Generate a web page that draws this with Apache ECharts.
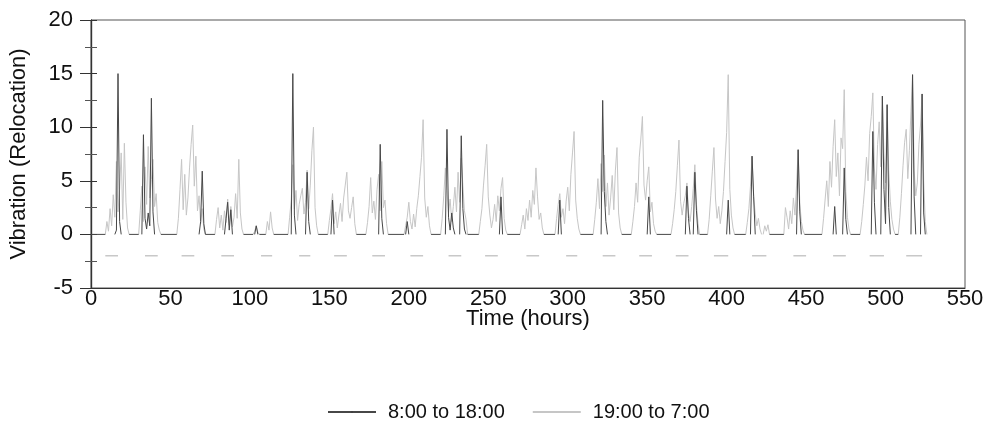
<!DOCTYPE html>
<html>
<head>
<meta charset="utf-8">
<script src="https://cdn.jsdelivr.net/npm/echarts@6/dist/echarts.min.js"></script>
<style>
  html, body { margin: 0; padding: 0; background: #fff; }
  #chart { width: 990px; height: 432px; }
</style>
</head>
<body>
<div id="chart"></div>
<script>
// Hourly vibration readings (relocation units), time in hours from start of logging.

// Flat quiet stretches of the 8:00-18:00 trace: [startHour, endHour] at zero.
const dayQuiet = [
  [0, 9], [24, 30], [44, 54], [72, 78], [96, 102], [106, 110], [115, 124],
  [143, 149], [167, 173], [187, 197], [214, 220], [237, 244], [262, 270],
  [285, 292], [308, 316], [334, 340], [356, 365], [383, 388], [405, 412],
  [427, 436], [449, 460], [478, 484], [506, 508]
];

// Peaks of the 8:00-18:00 trace: each run is a list of [hour, value].
const dayPeaks = [
  [[15, 0], [16, 0.4], [17, 15], [18, 1.2], [19, 0]],
  [[32, 0], [33, 9.3], [34, 1.5], [35, 0.5], [36, 2], [37, 0.8], [38, 12.7], [39, 2.1], [40, 0]],
  [[68, 0], [69, 1.2], [70, 5.9], [71, 1.0], [72, 0]],
  [[84, 0], [85, 1.5], [86, 3.0], [87, 0.4], [88, 2.3], [89, 0]],
  [[103, 0], [104, 0.8], [105, 0]],
  [[126, 0], [127, 15], [128, 1.8], [129, 0]],
  [[135, 0], [136, 5.8], [137, 1.2], [138, 0]],
  [[151, 0], [152, 3.2], [153, 0]],
  [[181, 0], [182, 8.4], [183, 1.5], [184, 0]],
  [[198, 0], [199, 1.2], [200, 0]],
  [[223, 0], [224, 9.8], [225, 1.6], [226, 0.4], [227, 2.0], [228, 0.6], [229, 0]],
  [[232, 0], [233, 9.2], [234, 2.4], [235, 0.5], [236, 0]],
  [[257, 0], [258, 3.5], [259, 0]],
  [[294, 0], [295, 3.2], [296, 0]],
  [[321, 0], [322, 12.5], [323, 4.0], [324, 1.2], [325, 0]],
  [[350, 0], [351, 3.5], [352, 0]],
  [[374, 0], [375, 4.5], [376, 1.5], [377, 0]],
  [[379, 0], [380, 5.8], [381, 2.2], [382, 0]],
  [[400, 0], [401, 3.2], [402, 0]],
  [[415, 0], [416, 7.3], [417, 3.5], [418, 0]],
  [[444, 0], [445, 7.9], [446, 2.1], [447, 0]],
  [[467, 0], [468, 2.6], [469, 0]],
  [[473, 0], [474, 6.2], [475, 1.4], [476, 0]],
  [[491, 0], [492, 9.6], [493, 3.0], [494, 0]],
  [[497, 0], [498, 12.9], [499, 4.2], [500, 1.0], [501, 12.1], [502, 2.5], [503, 0]],
  [[516, 0], [517, 14.9], [518, 3.5], [519, 0]],
  [[522, 0], [523, 13.1], [524, 2.0], [525, 0]]
];

// Bursts of the 19:00-7:00 trace: each run is a list of [hour, value].
const nightBursts = [
  [[9, 0], [10, 1.2], [11, 0.3], [12, 2.4], [13, 0.8], [14, 3.7], [15, 1.6], [16, 6.8], [17, 2.1], [18, 4.2], [19, 7.6], [20, 1.4], [21, 8.5], [22, 3.0], [23, 0.6], [24, 0]],
  [[30, 0], [31, 2.2], [32, 4.5], [33, 1.2], [34, 6.3], [35, 2.8], [36, 8.2], [37, 3.4], [38, 5.1], [39, 7.0], [40, 2.6], [41, 3.8], [42, 1.1], [43, 0.4], [44, 0]],
  [[54, 0], [55, 1.5], [56, 4.2], [57, 7], [58, 2.3], [59, 5.6], [60, 1.8], [61, 3.4], [62, 6.2], [63, 8.4], [64, 10.2], [65, 4.5], [66, 7.3], [67, 2.2], [68, 3.6], [69, 1.0], [70, 2.4], [71, 0.5], [72, 0]],
  [[78, 0], [79, 1.4], [80, 2.5], [81, 0.6], [82, 1.8], [83, 0.4], [84, 2.2], [85, 1.1], [86, 3.3], [87, 0.9], [88, 2.6], [89, 0.7], [90, 1.6], [91, 3.8], [92, 1.5], [93, 7], [94, 2.0], [95, 0.5], [96, 0]],
  [[102, 0], [103, 0.3], [104, 0.8], [105, 0.2], [106, 0]],
  [[110, 0], [111, 1.2], [112, 0.4], [113, 2.1], [114, 0.6], [115, 0]],
  [[124, 0], [125, 1.6], [126, 3.2], [127, 6.5], [128, 2.4], [129, 4.1], [130, 1.3], [131, 2.8], [132, 3.6], [133, 4.3], [134, 1.9], [135, 3.0], [136, 6], [137, 2.4], [138, 4.6], [139, 7.8], [140, 10], [141, 2.5], [142, 0.8], [143, 0]],
  [[149, 0], [150, 1.3], [151, 2.4], [152, 3.8], [153, 1.0], [154, 2.1], [155, 0.6], [156, 1.8], [157, 2.9], [158, 1.2], [159, 3.4], [160, 4.6], [161, 5.8], [162, 2.2], [163, 1.5], [164, 2.5], [165, 3.5], [166, 1.0], [167, 0]],
  [[173, 0], [174, 1.1], [175, 2.6], [176, 5.3], [177, 2.0], [178, 3.1], [179, 1.4], [180, 4.2], [181, 5.6], [182, 2.2], [183, 6.8], [184, 2.5], [185, 3.2], [186, 1.0], [187, 0]],
  [[197, 0], [198, 0.8], [199, 1.6], [200, 3], [201, 1.2], [202, 0.5], [203, 1.9], [204, 0.7], [205, 2.4], [206, 3.6], [207, 5.4], [208, 7.2], [209, 10.7], [210, 3.4], [211, 1.6], [212, 2.6], [213, 0.8], [214, 0]],
  [[220, 0], [221, 1.5], [222, 3.6], [223, 6.2], [224, 4.1], [225, 2.0], [226, 3.3], [227, 1.2], [228, 2.6], [229, 4.4], [230, 2.1], [231, 5.8], [232, 3.0], [233, 7.1], [234, 4.6], [235, 2.2], [236, 1.4], [237, 0]],
  [[244, 0], [245, 1.2], [246, 2.4], [247, 4.6], [248, 6.4], [249, 8.4], [250, 3.5], [251, 1.8], [252, 0.6], [253, 1.4], [254, 2.8], [255, 1.2], [256, 3.6], [257, 2.2], [258, 4.3], [259, 5.3], [260, 1.5], [261, 0.4], [262, 0]],
  [[270, 0], [271, 0.9], [272, 1.8], [273, 0.5], [274, 2.4], [275, 1.3], [276, 3.2], [277, 1.6], [278, 4.1], [279, 2.8], [280, 6.2], [281, 3.5], [282, 1.4], [283, 2.0], [284, 0.6], [285, 0]],
  [[292, 0], [293, 1.5], [294, 2.8], [295, 3.8], [296, 1.6], [297, 2.4], [298, 1.0], [299, 3.1], [300, 4.4], [301, 2.2], [302, 5.6], [303, 7.6], [304, 9.6], [305, 3.2], [306, 1.5], [307, 0.5], [308, 0]],
  [[316, 0], [317, 1.4], [318, 3.0], [319, 5.2], [320, 2.4], [321, 6.6], [322, 4.0], [323, 7.4], [324, 2.6], [325, 4.8], [326, 1.8], [327, 3.4], [328, 5.5], [329, 2.3], [330, 6.0], [331, 8.1], [332, 2.0], [333, 0.6], [334, 0]],
  [[340, 0], [341, 1.2], [342, 2.6], [343, 4.8], [344, 3.0], [345, 7.2], [346, 8.9], [347, 11.0], [348, 4.6], [349, 3.2], [350, 5.0], [351, 6.3], [352, 2.1], [353, 3.0], [354, 1.0], [355, 0.3], [356, 0]],
  [[365, 0], [366, 1.0], [367, 2.3], [368, 4.0], [369, 6.4], [370, 8.8], [371, 3.1], [372, 1.8], [373, 2.9], [374, 3.6], [375, 4.8], [376, 2.0], [377, 1.2], [378, 2.6], [379, 4.3], [380, 6.5], [381, 2.8], [382, 1.0], [383, 0]],
  [[388, 0], [389, 1.4], [390, 3.6], [391, 5.9], [392, 8.1], [393, 3.3], [394, 1.5], [395, 2.6], [396, 1.0], [397, 2.2], [398, 4.0], [399, 6.8], [400, 9.5], [401, 14.9], [402, 4.2], [403, 1.8], [404, 0.6], [405, 0]],
  [[412, 0], [413, 1.1], [414, 2.4], [415, 4.5], [416, 7.3], [417, 3.6], [418, 1.9], [419, 0.8], [420, 1.5], [421, 0.5], [422, 0]],
  [[423, 0], [424, 0.8], [425, 0.3], [426, 0.9], [427, 0]],
  [[436, 0], [437, 2.5], [438, 1.6], [439, 0.5], [440, 2.2], [441, 1.0], [442, 3.4], [443, 1.8], [444, 4.6], [445, 7.9], [446, 3.0], [447, 1.2], [448, 0.4], [449, 0]],
  [[460, 0], [461, 1.5], [462, 3.3], [463, 5.0], [464, 2.6], [465, 6.8], [466, 4.4], [467, 8.2], [468, 10.7], [469, 5.4], [470, 7.6], [471, 3.6], [472, 9.0], [473, 8.0], [474, 13.5], [475, 4.0], [476, 1.6], [477, 0.5], [478, 0]],
  [[484, 0], [485, 1.2], [486, 2.8], [487, 4.6], [488, 7.2], [489, 5.0], [490, 9.4], [491, 11.0], [492, 13.2], [493, 6.1], [494, 4.2], [495, 8.4], [496, 10.5], [497, 6.3], [498, 12.9], [499, 7.5], [500, 4.8], [501, 12.1], [502, 6.0], [503, 3.1], [504, 1.4], [505, 0.5], [506, 0]],
  [[508, 0], [509, 1.6], [510, 3.8], [511, 6.4], [512, 8.6], [513, 9.8], [514, 5.2], [515, 7.8], [516, 11.5], [517, 14.9], [518, 6.0], [519, 3.6], [520, 4.8], [521, 8.4], [522, 10.2], [523, 13.1], [524, 5.0], [525, 1.2], [526, 0]]
];

// Working-day windows marked below the traces: [startHour, endHour].
const dayWindows = [
  [9, 17], [34, 42], [57, 65], [82, 90], [107, 114], [131, 138], [153, 161],
  [177, 185], [201, 209], [225, 233], [248, 256], [274, 282], [299, 306],
  [322, 330], [345, 353], [368, 376], [392, 401], [416, 425], [442, 450],
  [467, 475], [490, 499], [513, 523]
];
const dayWindowLevel = -2;

const seriesNames = ['8:00 to 18:00', '19:00 to 7:00'];
const xTicks = { min: 0, max: 550, step: 50 };
const yTicks = { min: -5, max: 20, step: 5 };

// Join separate runs into one line, with a break between runs.
function joinRuns(runs) {
  const out = [];
  runs.forEach((run, i) => {
    if (i > 0) out.push(null);
    run.forEach(p => out.push(p));
  });
  return out;
}

const dayData = joinRuns(
  dayQuiet.map(([a, b]) => [[a, 0], [b, 0]]).concat(dayPeaks)
);
const nightData = joinRuns(nightBursts);
const windowData = joinRuns(dayWindows.map(([a, b]) => [[a, dayWindowLevel], [b, dayWindowLevel]]));

const FONT = 'Liberation Sans, Arial, sans-serif';
const GRID = { left: 91, right: 25, top: 20, bottom: 144 };
const PLOT_WIDTH = 990 - GRID.left - GRID.right;

const chart = echarts.init(document.getElementById('chart'), null, { renderer: 'canvas' });

const yBase = {
  type: 'value',
  min: yTicks.min,
  max: yTicks.max,
  interval: yTicks.step,
  splitLine: { show: false },
  minorSplitLine: { show: false }
};

chart.setOption({
  animation: false,
  backgroundColor: '#ffffff',
  grid: Object.assign({
    show: true, borderColor: '#555', borderWidth: 1, backgroundColor: 'transparent'
  }, GRID),
  legend: {
    data: seriesNames,
    left: 322,
    top: 397,
    itemWidth: 48,
    itemHeight: 2,
    itemGap: 27,
    textStyle: { fontFamily: FONT, fontSize: 20, color: '#111', padding: [0, 0, 0, 7] }
  },
  xAxis: {
    type: 'value',
    min: xTicks.min,
    max: xTicks.max,
    interval: xTicks.step,
    name: 'Time (hours)',
    nameLocation: 'middle',
    nameGap: 20,
    nameMoveOverlap: false,
    nameTextStyle: { fontFamily: FONT, fontSize: 22, color: '#111' },
    axisLine: { show: true, onZero: false, lineStyle: { color: '#333', width: 1 } },
    axisTick: { show: false },
    axisLabel: { fontFamily: FONT, fontSize: 22, color: '#111', margin: 0 },
    splitLine: { show: false }
  },
  yAxis: [
    Object.assign({}, yBase, {
      position: 'left',
      name: 'Vibration (Relocation)',
      nameLocation: 'middle',
      nameGap: 61,
      nameMoveOverlap: false,
      nameTextStyle: { fontFamily: FONT, fontSize: 22, color: '#111' },
      axisLine: { show: true, onZero: false, lineStyle: { color: '#333', width: 1.2 } },
      axisTick: { show: true, length: 11, lineStyle: { color: '#333' } },
      minorTick: { show: true, splitNumber: 2, length: 6, lineStyle: { color: '#555' } },
      axisLabel: { fontFamily: FONT, fontSize: 22, color: '#111', margin: 18 }
    }),
    // Same scale again, moved onto the left edge so its ticks point into the plot.
    Object.assign({}, yBase, {
      position: 'right',
      offset: -PLOT_WIDTH,
      axisLine: { show: true, onZero: false, lineStyle: { color: '#333', width: 1.2 } },
      axisTick: { show: true, inside: false, length: 6, lineStyle: { color: '#333' } },
      minorTick: { show: true, splitNumber: 2, length: 6, lineStyle: { color: '#555' } },
      axisLabel: { show: false }
    })
  ],
  series: [
    {
      name: seriesNames[1],
      type: 'line',
      data: nightData,
      showSymbol: false,
      symbol: 'none',
      connectNulls: false,
      lineStyle: { color: '#c6c6c6', width: 1 },
      itemStyle: { color: '#c6c6c6' },
      z: 2
    },
    {
      name: seriesNames[0],
      type: 'line',
      data: dayData,
      showSymbol: false,
      symbol: 'none',
      connectNulls: false,
      lineStyle: { color: '#474747', width: 1 },
      itemStyle: { color: '#3a3a3a' },
      z: 3
    },
    {
      name: 'day windows',
      type: 'line',
      yAxisIndex: 1,
      data: windowData,
      showSymbol: false,
      symbol: 'none',
      connectNulls: false,
      lineStyle: { color: '#c8c8c8', width: 1.5 },
      z: 1
    }
  ]
});
</script>
</body>
</html>
